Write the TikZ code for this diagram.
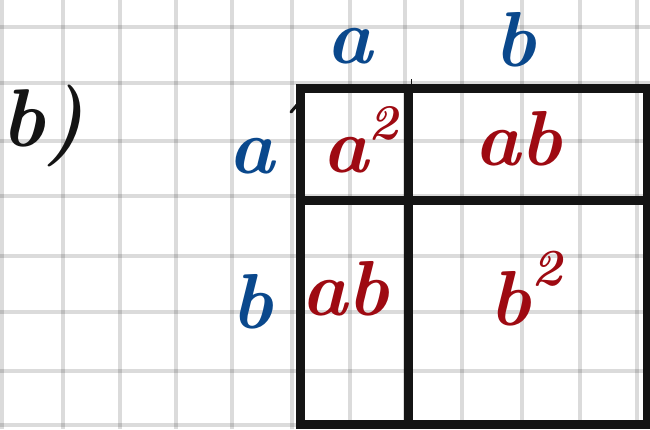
\documentclass[tikz,border=0pt]{standalone}
\usepackage{fontspec}
\definecolor{lblue}{RGB}{10,72,140}
\definecolor{lred}{RGB}{158,10,18}
\definecolor{ink}{RGB}{20,20,20}
\begin{document}
\begin{tikzpicture}[x=1pt,y=-1pt,
  gridline/.style={line width=4.5pt,black,opacity=0.14},
  frame/.style={line width=9pt,ink},
  lbl/.style={inner sep=0pt,anchor=base,font=\fontsize{78}{80}\selectfont\bfseries\itshape},
  bluelbl/.style={lbl,text=lblue},
  redlbl/.style={lbl,text=lred}]
\useasboundingbox (0,0) rectangle (650,429);
\fill[white] (0,0) rectangle (650,429);
% grid
\foreach \x in {2,63,120,176,232,292,350,405,462,522,580,637}
  \draw[gridline] (\x,0) -- (\x,429);
\foreach \y in {27,83,141,196,256,312,371,425}
  \draw[gridline] (0,\y) -- (650,\y);
% frame
\draw[frame] (300,88) rectangle (647,424.5);
\draw[frame] (408,88) -- (408,424.5);
\draw[frame] (300,200) -- (647,200);
\draw[ink,line width=3pt,line cap=round] (291,112) -- (297,105);
\draw[ink,line width=1.5pt] (411.5,79) -- (411.5,86);
% labels
\node[lbl,text=ink,font=\fontsize{82}{85}\selectfont\bfseries\itshape] (lab) at (43,146) {b)};
\node[bluelbl] (ta) at (350,63) {a};
\node[bluelbl] (tb) at (515,66) {b};
\node[bluelbl] (la) at (252,173) {a};
\node[bluelbl] (lb) at (252,328) {b};
\node[redlbl] (a2) at (360,172) {a\raisebox{33pt}{\fontsize{50}{55}\selectfont 2}};
\node[redlbl] (ab1) at (518,165) {ab};
\node[redlbl] (ab2) at (345,315) {ab};
\node[redlbl] (b2) at (526,325) {b\raisebox{40pt}{\fontsize{52}{55}\selectfont 2}};
\end{tikzpicture}
\end{document}
